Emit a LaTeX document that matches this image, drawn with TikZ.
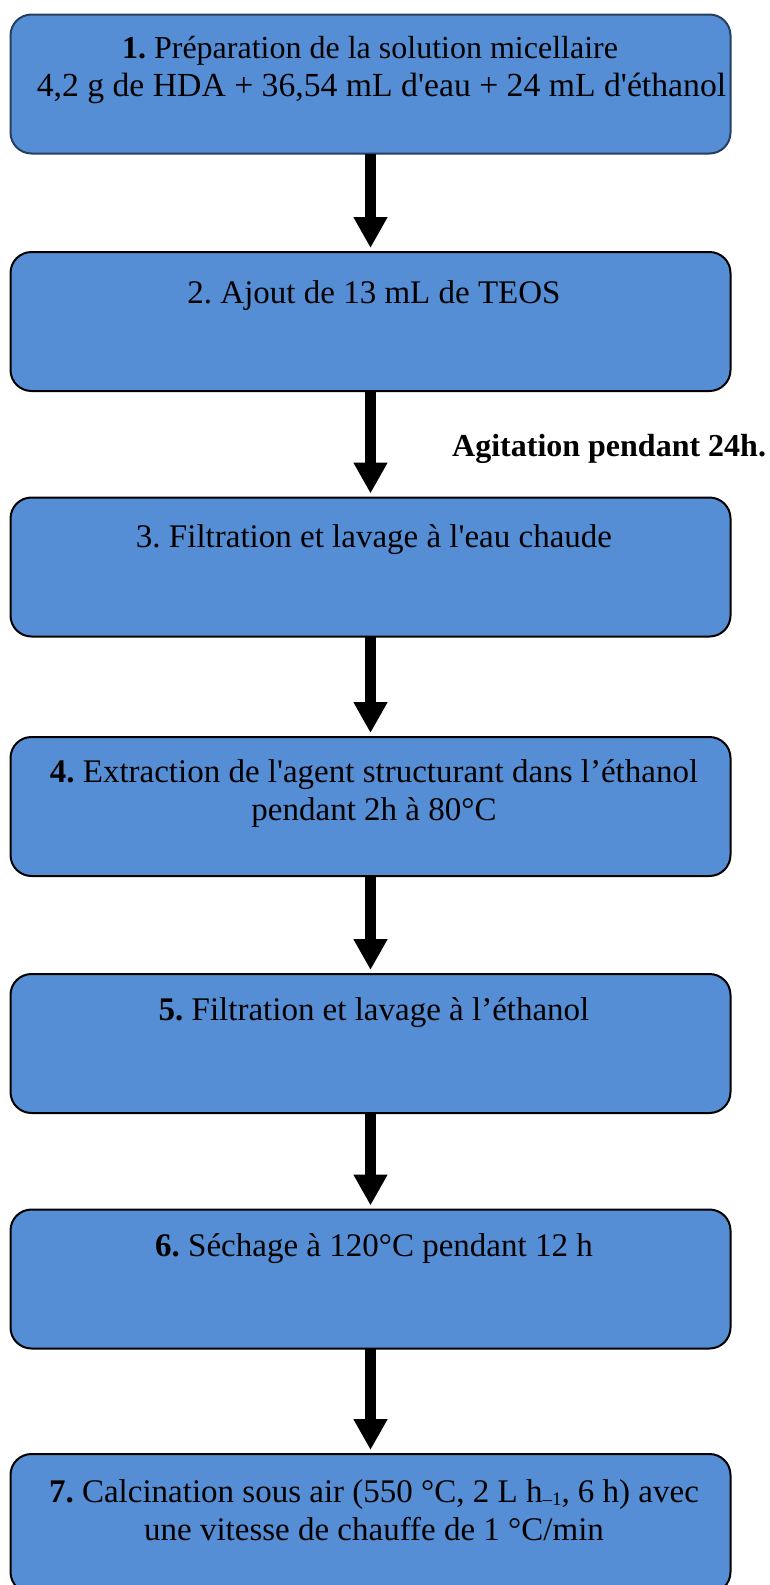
\documentclass[tikz,border=0pt]{standalone}
\usepackage{fontspec}
\setmainfont{Liberation Serif}[Ligatures=TeXOff]
\usetikzlibrary{arrows.meta,calc}
\definecolor{boxfill}{RGB}{85,142,213}
\definecolor{navyline}{RGB}{36,63,96}
\frenchspacing
\tikzset{
 stepbox/.style={draw=black, line width=2pt, fill=boxfill, rounded corners=21pt, minimum width=720pt, minimum height=139pt, inner sep=0pt, outer sep=0pt},
 steptext/.style={font=\fontsize{33}{37.5}\selectfont, align=center, inner sep=0pt, anchor=base},
 flow/.style={line width=11pt, -{Triangle[width=32pt,length=31pt]}, shorten >=4pt},
 note/.style={font=\fontsize{32}{37}\selectfont\bfseries, inner sep=0pt, anchor=base west},
}
\begin{document}
\begin{tikzpicture}[x=1pt,y=1pt]
\useasboundingbox (0,0) rectangle (769,-1585);
\clip (0,0) rectangle (769,-1585);
\node[stepbox, draw=navyline] (b1) at (370.5,-84) {};
\node[stepbox] (b2) at (370.5,-321.5) {};
\node[stepbox] (b3) at (370.5,-567) {};
\node[stepbox] (b4) at (370.5,-806.5) {};
\node[stepbox] (b5) at (370.5,-1043.5) {};
\node[stepbox] (b6) at (370.5,-1279) {};
\node[stepbox] (b7) at (370.5,-1523.5) {};
\node[steptext] (t1) at (375,-96) {{\fontsize{32}{37.5}\selectfont\textbf{1.} Préparation de la solution micellaire\hspace*{10pt}}\\{\fontsize{33.7}{37.5}\selectfont\hspace*{13pt}4,2 g de HDA + 36,54 mL d'eau + 24 mL d'éthanol}};
\node[steptext] (t2) at (374,-303) {2. Ajout de 13 mL de TEOS};
\node[steptext] (t3) at (374,-547) {3. Filtration et lavage à l'eau chaude};
\node[steptext] (t4) at (374,-820) {\textbf{4.} Extraction de l'agent structurant dans l’éthanol\\pendant 2h à 80°C};
\node[steptext] (t5) at (374,-1020) {\textbf{5.} Filtration et lavage à l’éthanol};
\node[steptext] (t6) at (374,-1256) {\textbf{6.} Séchage à 120°C pendant 12 h};
\node[steptext] (t7) at (374,-1540) {\textbf{7.} Calcination sous air (550 °C, 2 L h\raisebox{-3pt}{\fontsize{19}{19}\selectfont –1}, 6 h) avec\\une vitesse de chauffe de 1 °C/min};
\node[note] (ag) at (452,-456) {Agitation pendant 24h.};
\draw[flow] (b1.south) -- (b2.north);
\draw[flow] (b2.south) -- (b3.north);
\draw[flow] (b3.south) -- (b4.north);
\draw[flow] (b4.south) -- (b5.north);
\draw[flow] (b5.south) -- (b6.north);
\draw[flow] (b6.south) -- (b7.north);
\end{tikzpicture}
\end{document}
